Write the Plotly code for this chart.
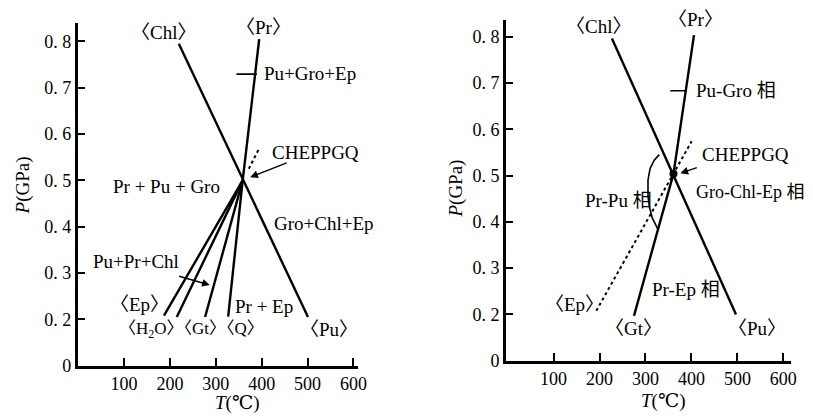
import plotly.graph_objects as go

W, H = 813, 418

# ---------------- data (left panel) ----------------
L_inv_T, L_inv_P = 358.6, 0.50
L_chl_T = [219.4, 500.9]; L_chl_P = [0.795, 0.205]
L_pr_T = [394.6, L_inv_T]; L_pr_P = [0.805, L_inv_P]
L_q_T = [L_inv_T, 327.0]; L_q_P = [L_inv_P, 0.206]
L_gt_T = [L_inv_T, 276.7]; L_gt_P = [L_inv_P, 0.205]
L_h2o_T = [L_inv_T, 215.0]; L_h2o_P = [L_inv_P, 0.205]
L_ep_T = [L_inv_T, 187.0]; L_ep_P = [L_inv_P, 0.208]
L_dot_T = [372.0, 393.0]; L_dot_P = [0.525, 0.566]
L_lead_T = [345.0, 389.6]; L_lead_P = [0.7295, 0.7295]

# ---------------- data (right panel) ----------------
R_inv_T, R_inv_P = 361.0, 0.504
R_chl_T = [227.0, 497.0]; R_chl_P = [0.796, 0.200]
R_pr_T = [405.6, R_inv_T]; R_pr_P = [0.803, R_inv_P]
R_gt_T = [R_inv_T, 275.0]; R_gt_P = [R_inv_P, 0.197]
R_ep_T = [193.0, 400.6]; R_ep_P = [0.208, 0.574]
R_lead_T = [354.0, 390.0]; R_lead_P = [0.683, 0.683]
R_arc_T = [330.0, 319.0, 310.0, 305.5, 305.5, 309.0, 315.0, 322.0, 328.0]
R_arc_P = [0.545, 0.533, 0.515, 0.49, 0.455, 0.43, 0.408, 0.392, 0.382]

# ticks
NB = "\u00a0"
x_tickvals = [100, 200, 300, 400, 500, 600]
x_ticktext = ["100", "200", "300", "400", "500", "600"]
y_tickvals = [0.1, 0.2, 0.3, 0.4, 0.5, 0.6, 0.7, 0.8]
y_ticktext = ["0", "0." + NB + "2", "0." + NB + "3", "0." + NB + "4", "0." + NB + "5",
              "0." + NB + "6", "0." + NB + "7", "0." + NB + "8"]

FONT = "'Liberation Serif', 'Times New Roman', 'DejaVu Serif', 'Noto Sans CJK SC', serif"
LW = 2.4

fig = go.Figure()

def line(T, P, xa, ya, dash="solid", width=LW):
    fig.add_trace(go.Scatter(x=T, y=P, xaxis=xa, yaxis=ya, mode="lines",
                             line=dict(color="black", width=width, dash=dash),
                             hoverinfo="skip", showlegend=False))

for T, P in [(L_chl_T, L_chl_P), (L_pr_T, L_pr_P), (L_q_T, L_q_P), (L_gt_T, L_gt_P),
             (L_h2o_T, L_h2o_P), (L_ep_T, L_ep_P)]:
    line(T, P, "x", "y")
line(L_dot_T, L_dot_P, "x", "y", dash="dot", width=2)
line(L_lead_T, L_lead_P, "x", "y", width=1.6)

for T, P in [(R_chl_T, R_chl_P), (R_pr_T, R_pr_P), (R_gt_T, R_gt_P)]:
    line(T, P, "x2", "y2")
line(R_ep_T, R_ep_P, "x2", "y2", dash="dot", width=2)
line(R_lead_T, R_lead_P, "x2", "y2", width=1.6)
line(R_arc_T, R_arc_P, "x2", "y2", width=1.6)
fig.add_trace(go.Scatter(x=[R_inv_T], y=[R_inv_P], xaxis="x2", yaxis="y2", mode="markers",
                         marker=dict(color="black", size=8), hoverinfo="skip", showlegend=False))

ann = []
def txt(x, y, s, xr, yr, xanchor="center", size=19):
    ann.append(dict(x=x, y=y, xref=xr, yref=yr, text=s, showarrow=False,
                    xanchor=xanchor, yanchor="middle", font=dict(family=FONT, size=size, color="black")))

def arrow(x0, y0, x1, y1, xr, yr):
    ann.append(dict(x=x1, y=y1, ax=x0, ay=y0, xref=xr, yref=yr, axref=xr, ayref=yr,
                    text="", showarrow=True, arrowhead=2, arrowsize=1.1, arrowwidth=1.4,
                    arrowcolor="black"))

# left labels
txt(185, 0.82, "〈Chl〉", "x", "y")
txt(403, 0.83, "〈Pr〉", "x", "y")
txt(400, 0.73, "Pu+Gro+Ep", "x", "y", xanchor="left")
txt(418, 0.56, "CHEPPGQ", "x", "y", xanchor="left")
arrow(457.8, 0.539, 375.0, 0.507, "x", "y")
txt(192, 0.487, "Pr + Pu + Gro", "x", "y")
txt(422, 0.407, "Gro+Chl+Ep", "x", "y", xanchor="left")
txt(126, 0.324, "Pu+Pr+Chl", "x", "y")
arrow(217, 0.294, 287, 0.274, "x", "y")
txt(338.6, 0.227, "Pr + Ep", "x", "y", xanchor="left")
txt(134.5, 0.231, "〈Ep〉", "x", "y")
txt(246.0, 0.177, "〈H<sub>2</sub>O〉〈Gt〉〈Q〉", "x", "y", size=17)
txt(547.6, 0.177, "〈Pu〉", "x", "y")

# right labels
txt(197, 0.821, "〈Chl〉", "x2", "y2")
txt(408, 0.836, "〈Pr〉", "x2", "y2")
txt(405, 0.683, "Pu-Gro 相", "x2", "y2", xanchor="left")
txt(418, 0.546, "CHEPPGQ", "x2", "y2", xanchor="left")
arrow(415, 0.518, 376, 0.505, "x2", "y2")
txt(406, 0.465, "Gro-Chl-Ep 相", "x2", "y2", xanchor="left", size=18)
txt(165, 0.447, "Pr-Pu 相", "x2", "y2", xanchor="left")
txt(310, 0.254, "Pr-Ep 相", "x2", "y2", xanchor="left")
txt(146.6, 0.222, "〈Ep〉", "x2", "y2")
txt(275, 0.169, "〈Gt〉", "x2", "y2")
txt(543.6, 0.169, "〈Pu〉", "x2", "y2")

# axis titles (paper coords)
def ptxt(xp, yp, s, angle=0):
    ann.append(dict(x=xp / W, y=1 - yp / H, xref="paper", yref="paper", text=s, showarrow=False,
                    textangle=angle, xanchor="center", yanchor="middle",
                    font=dict(family=FONT, size=19, color="black")))

ptxt(15, 182, "<i>P</i>(GPa)", -90)
ptxt(232, 405, "<i>T</i>(℃)")
ptxt(453, 185, "<i>P</i>(GPa)", -90)
ptxt(663, 403, "<i>T</i>(℃)")

axis_common = dict(showline=True, linecolor="black", linewidth=2.5, showgrid=False, zeroline=False,
                   ticks="inside", ticklen=8, tickwidth=1.5, tickcolor="black",
                   tickfont=dict(family=FONT, size=18, color="black"), mirror=False)

fig.update_layout(
    width=W, height=H, margin=dict(l=0, r=0, t=0, b=0),
    paper_bgcolor="white", plot_bgcolor="white",
    font=dict(family=FONT, color="black"),
    xaxis=dict(domain=[70.5 / W, 354 / W], range=[-0.9, 610.1], anchor="y",
               tickvals=x_tickvals, ticktext=x_ticktext, **axis_common),
    yaxis=dict(domain=[1 - 366.4 / H, 1 - 15 / H], range=[0.1, 0.8406], anchor="x",
               tickvals=y_tickvals, ticktext=y_ticktext, **axis_common),
    xaxis2=dict(domain=[503.3 / W, 792 / W], range=[-4.1, 617.2], anchor="y2",
                tickvals=x_tickvals, ticktext=x_ticktext, **axis_common),
    yaxis2=dict(domain=[1 - 361.4 / H, 1 - 12 / H], range=[0.1, 0.8364], anchor="x2",
                tickvals=y_tickvals, ticktext=y_ticktext, **axis_common),
    annotations=ann,
    showlegend=False,
)

fig.write_html("out.html")
